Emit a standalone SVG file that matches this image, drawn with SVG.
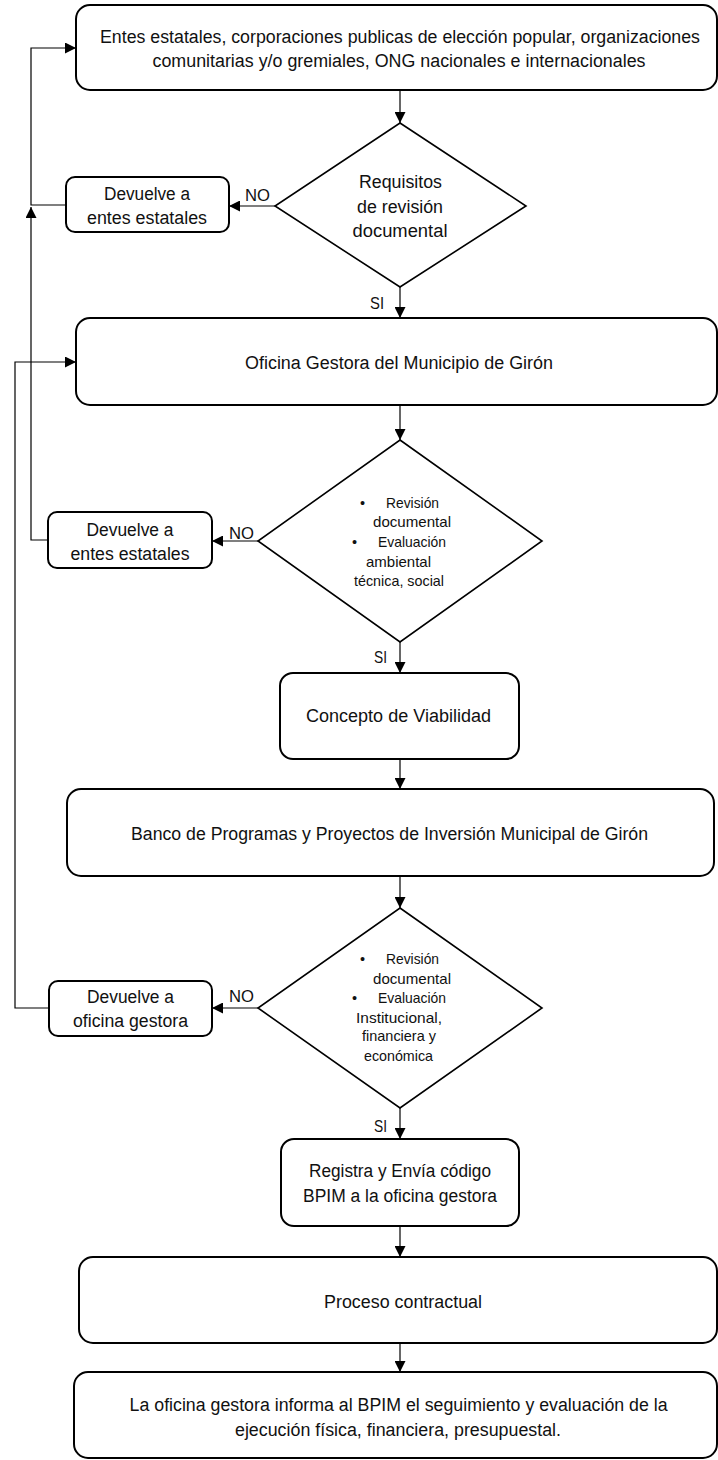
<svg xmlns="http://www.w3.org/2000/svg" width="718" height="1460" viewBox="0 0 718 1460">
<style>
.box{fill:#fff;stroke:#000;stroke-width:2}
.dia{fill:#fff;stroke:#000;stroke-width:1.6}
.cm{fill:none;stroke:#000;stroke-width:1.2;marker-end:url(#ah)}
text{font-family:"Liberation Sans",Arial,sans-serif;fill:#111}
.t{font-size:18px;text-anchor:middle}
.s{font-size:14.5px}
.l{font-size:16.5px}
</style>
<defs>
<marker id="ah" markerUnits="userSpaceOnUse" markerWidth="11" markerHeight="11" refX="10" refY="5" orient="auto" viewBox="0 0 10 10">
<path d="M0,0 L10,5 L0,10 z" fill="#000"/>
</marker>
</defs>
<g id="connectors">
<path class="cm" d="M400,90 V123"/>
<path class="cm" d="M275,206 H229"/>
<path class="cm" d="M400,287 V318"/>
<path class="cm" d="M66,205 H31 V48 H76"/>
<path class="cm" d="M400,406 V440"/>
<path class="cm" d="M258,541 H212"/>
<path class="cm" d="M48,540 H31 V207"/>
<path class="cm" d="M400,642 V673"/>
<path class="cm" d="M400,759 V789"/>
<path class="cm" d="M400,876 V908"/>
<path class="cm" d="M258,1008 H212"/>
<path class="cm" d="M49,1008 H15 V362 H76"/>
<path class="cm" d="M400,1108 V1139"/>
<path class="cm" d="M400,1226 V1257"/>
<path class="cm" d="M400,1343 V1372"/>
</g>
<g id="labels">
<text class="l" x="245" y="201" textLength="25" lengthAdjust="spacingAndGlyphs">NO</text>
<text class="l" x="370" y="309" textLength="14" lengthAdjust="spacingAndGlyphs">SI</text>
<text class="l" x="229" y="539" textLength="25" lengthAdjust="spacingAndGlyphs">NO</text>
<text class="l" x="374" y="663" textLength="13" lengthAdjust="spacingAndGlyphs">SI</text>
<text class="l" x="229" y="1002" textLength="25" lengthAdjust="spacingAndGlyphs">NO</text>
<text class="l" x="374" y="1132" textLength="13" lengthAdjust="spacingAndGlyphs">SI</text>
</g>
<g id="n1">
<rect class="box" x="76" y="5" width="641" height="85" rx="14"/>
<text class="t" x="400" y="43" textLength="600" lengthAdjust="spacingAndGlyphs">Entes estatales, corporaciones publicas de elección popular, organizaciones</text>
<text class="t" x="399" y="67" textLength="493" lengthAdjust="spacingAndGlyphs">comunitarias y/o gremiales, ONG nacionales e internacionales</text>
</g>
<g id="d1">
<polygon class="dia" points="400,123 526,206 400,287 275,206"/>
<text class="t" x="400.5" y="188" textLength="83" lengthAdjust="spacingAndGlyphs">Requisitos</text>
<text class="t" x="400" y="212.5" textLength="86" lengthAdjust="spacingAndGlyphs">de revisión</text>
<text class="t" x="400" y="236.5" textLength="95" lengthAdjust="spacingAndGlyphs">documental</text>
</g>
<g id="r1">
<rect class="box" x="66" y="177" width="163" height="55" rx="9"/>
<text class="t" x="147" y="200" textLength="86" lengthAdjust="spacingAndGlyphs">Devuelve a</text>
<text class="t" x="147" y="224" textLength="120" lengthAdjust="spacingAndGlyphs">entes estatales</text>
</g>
<g id="n2">
<rect class="box" x="76" y="318" width="641" height="87" rx="14"/>
<text class="t" x="399" y="369" textLength="308" lengthAdjust="spacingAndGlyphs">Oficina Gestora del Municipio de Girón</text>
</g>
<g id="d2">
<polygon class="dia" points="400,440 542,541 400,642 258,541"/>
<text class="s" x="360" y="507.5">•</text>
<text class="s" x="386" y="507.5" textLength="53" lengthAdjust="spacingAndGlyphs">Revisión</text>
<text class="s" x="373" y="527" textLength="78" lengthAdjust="spacingAndGlyphs">documental</text>
<text class="s" x="352" y="546.5">•</text>
<text class="s" x="378" y="546.5" textLength="68" lengthAdjust="spacingAndGlyphs">Evaluación</text>
<text class="s" x="366" y="566.5" textLength="65" lengthAdjust="spacingAndGlyphs">ambiental</text>
<text class="s" x="354" y="586" textLength="90" lengthAdjust="spacingAndGlyphs">técnica, social</text>
</g>
<g id="r2">
<rect class="box" x="48" y="512" width="164" height="56" rx="9"/>
<text class="t" x="130" y="536" textLength="87" lengthAdjust="spacingAndGlyphs">Devuelve a</text>
<text class="t" x="130" y="560" textLength="119" lengthAdjust="spacingAndGlyphs">entes estatales</text>
</g>
<g id="n3">
<rect class="box" x="280" y="673" width="239" height="86" rx="13"/>
<text class="t" x="398.5" y="722" textLength="185" lengthAdjust="spacingAndGlyphs">Concepto de Viabilidad</text>
</g>
<g id="n4">
<rect class="box" x="67" y="789" width="647" height="87" rx="14"/>
<text class="t" x="389.5" y="840" textLength="517" lengthAdjust="spacingAndGlyphs">Banco de Programas y Proyectos de Inversión Municipal de Girón</text>
</g>
<g id="d3">
<polygon class="dia" points="400,908 542,1008 400,1108 258,1008"/>
<text class="s" x="360" y="964">•</text>
<text class="s" x="386" y="964" textLength="53" lengthAdjust="spacingAndGlyphs">Revisión</text>
<text class="s" x="373" y="983.5" textLength="78" lengthAdjust="spacingAndGlyphs">documental</text>
<text class="s" x="352" y="1003">•</text>
<text class="s" x="378" y="1003" textLength="68" lengthAdjust="spacingAndGlyphs">Evaluación</text>
<text class="s" x="356" y="1022.5" textLength="86" lengthAdjust="spacingAndGlyphs">Institucional,</text>
<text class="s" x="362" y="1041" textLength="74" lengthAdjust="spacingAndGlyphs">financiera y</text>
<text class="s" x="364" y="1061" textLength="69" lengthAdjust="spacingAndGlyphs">económica</text>
</g>
<g id="r3">
<rect class="box" x="49" y="981" width="163" height="55" rx="9"/>
<text class="t" x="130.5" y="1003" textLength="87" lengthAdjust="spacingAndGlyphs">Devuelve a</text>
<text class="t" x="130.5" y="1027" textLength="115" lengthAdjust="spacingAndGlyphs">oficina gestora</text>
</g>
<g id="n5">
<rect class="box" x="281" y="1139" width="238" height="87" rx="13"/>
<text class="t" x="400" y="1177" textLength="182" lengthAdjust="spacingAndGlyphs">Registra y Envía código</text>
<text class="t" x="400" y="1201.5" textLength="194" lengthAdjust="spacingAndGlyphs">BPIM a la oficina gestora</text>
</g>
<g id="n6">
<rect class="box" x="79" y="1257" width="638" height="86" rx="14"/>
<text class="t" x="403" y="1307.5" textLength="158" lengthAdjust="spacingAndGlyphs">Proceso contractual</text>
</g>
<g id="n7">
<rect class="box" x="74" y="1372" width="643" height="86" rx="14"/>
<text class="t" x="398.6" y="1410.5" textLength="538" lengthAdjust="spacingAndGlyphs">La oficina gestora informa al BPIM el seguimiento y evaluación de la</text>
<text class="t" x="398" y="1435.5" textLength="326" lengthAdjust="spacingAndGlyphs">ejecución física, financiera, presupuestal.</text>
</g>
</svg>
